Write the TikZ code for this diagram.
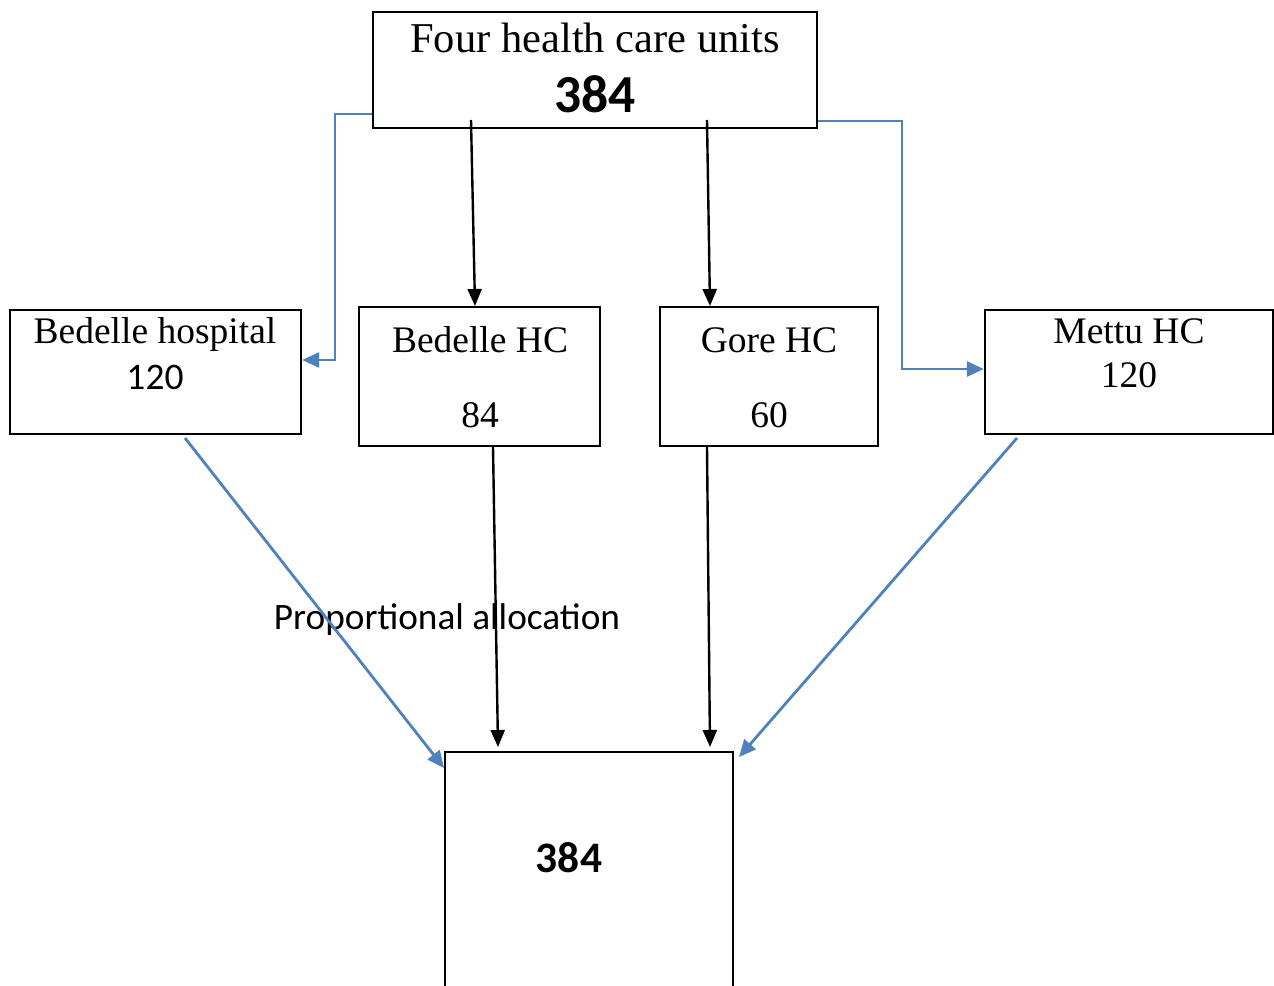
\documentclass[tikz,border=0pt]{standalone}
\usepackage{fontspec}
\setmainfont{Liberation Serif}
\newfontfamily\calib{Carlito}
\usetikzlibrary{arrows.meta}
\definecolor{offblue}{HTML}{4F81BD}
\tikzset{
  box/.style={draw=black, line width=2.3pt, rectangle, inner sep=0pt},
  serif/.style={font=\fontsize{37.5}{42}\selectfont, anchor=base, inner sep=0pt},
  sansnum/.style={font=\calib\fontsize{37.5}{42}\selectfont, anchor=base, inner sep=0pt},
  bignum/.style={font=\calib\bfseries\fontsize{53.5}{58}\selectfont, anchor=base, inner sep=0pt},
  blk/.style={draw=black, line width=2.4pt, -{Triangle[length=17pt,width=14pt]}},
  blu/.style={draw=offblue, line width=2.8pt, -{Triangle[length=17pt,width=15pt]}},
}
\begin{document}
\begin{tikzpicture}[x=1pt,y=-1pt]
\useasboundingbox (0,0) rectangle (1274,985);
\clip (0,0) rectangle (1274,985);
% boxes
\node[box, minimum width=444pt, minimum height=116pt] (top) at (595,70) {};
\node[box, minimum width=291pt, minimum height=124pt] (bh) at (155.5,372) {};
\node[box, minimum width=241pt, minimum height=139pt] (bhc) at (479.5,376.5) {};
\node[box, minimum width=218pt, minimum height=139pt] (ghc) at (769,376.5) {};
\node[box, minimum width=288pt, minimum height=124pt] (mhc) at (1129,372) {};
\node[box, minimum width=288pt, minimum height=260pt] (res) at (589,882) {};
% texts
\node[serif, font=\fontsize{42.5}{48}\selectfont] (t1) at (595,52) {Four health care units};
\node[bignum] (t2) at (595,112) {384};
\node[serif] (b1) at (155,343) {Bedelle hospital};
\node[sansnum] (b2) at (155,389) {120};
\node[serif] (c1) at (480,352) {Bedelle HC};
\node[serif] (c2) at (480,427) {84};
\node[serif] (g1) at (769,352) {Gore HC};
\node[serif] (g2) at (769,427) {60};
\node[serif] (m1) at (1129,343) {Mettu HC};
\node[serif] (m2) at (1129,387) {120};
\node[font=\calib\bfseries\fontsize{43.5}{48}\selectfont, anchor=base, inner sep=0pt] (r1) at (569,872) {384};
\node[font=\calib\fontsize{37.3}{42}\selectfont, anchor=base, inner sep=0pt] (pa) at (447,629) {Proportional allocation};
% connector points
\coordinate (s1) at (471,120);
\coordinate (s2) at (707,120);
\coordinate (e1) at (475,306);
\coordinate (e2) at (710,306);
\coordinate (s3) at (493,447);
\coordinate (s4) at (707,447);
\coordinate (e3) at (498,747);
\coordinate (e4) at (710,747);
% black arrows
\draw[blk] (s1) -- (e1);
\draw[blk] (s2) -- (e2);
\draw[blk] (s3) -- (e3);
\draw[blk] (s4) -- (e4);
% blue elbow arrows
\coordinate (lt) at (top.west |- 0,114);
\coordinate (rt) at (top.east |- 0,121);
\coordinate (bhR) at (bh.east |- 0,360);
\coordinate (mhL) at (mhc.west |- 0,369);
\draw[blu] (lt) -- (335,114) -- (335,360) -- (bhR);
\draw[blu] (rt) -- (902,121) -- (902,369) -- (mhL);
% diagonals
\coordinate (d1) at (185,438);
\coordinate (d2) at (1017,438);
\coordinate (f1) at (444,768);
\coordinate (f2) at (739,757);
\draw[blu] (d1) -- (f1);
\draw[blu] (d2) -- (f2);
\end{tikzpicture}
\end{document}
